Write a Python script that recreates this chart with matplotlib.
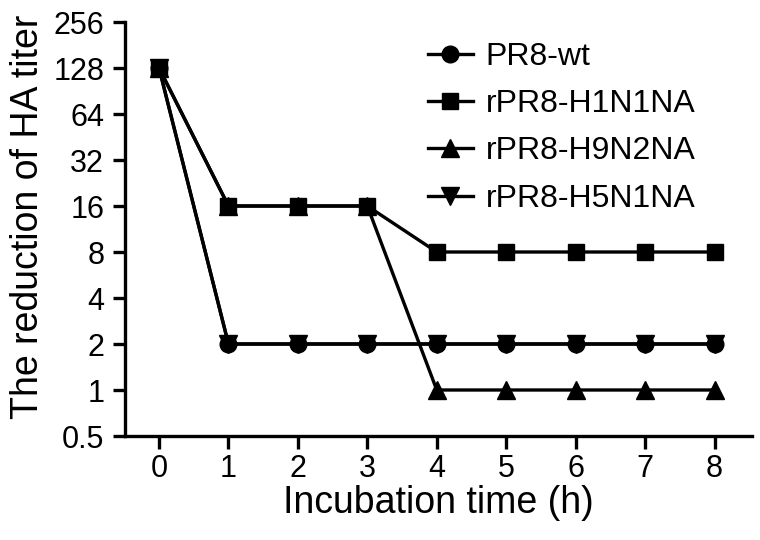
import matplotlib.pyplot as plt
import numpy as np

plt.rcParams['font.family'] = ['Liberation Sans', 'DejaVu Sans']

hours = [0, 1, 2, 3, 4, 5, 6, 7, 8]
pr8_wt = [128, 2, 2, 2, 2, 2, 2, 2, 2]
h1n1 = [128, 16, 16, 16, 8, 8, 8, 8, 8]
h9n2 = [128, 16, 16, 16, 1, 1, 1, 1, 1]
h5n1 = [128, 2, 2, 2, 2, 2, 2, 2, 2]
yticks = [0.5, 1, 2, 4, 8, 16, 32, 64, 128, 256]
ytick_labels = ["0.5", "1", "2", "4", "8", "16", "32", "64", "128", "256"]

W, H = 760, 540
fig = plt.figure(figsize=(7.6, 5.4), dpi=100)
# axes box in pixels: left 125, right 752, top 22, bottom 436
ax = fig.add_axes([125 / W, 1 - 436 / H, (752 - 125) / W, (436 - 22) / H])

lw = 2.4
ms = 12
h9, = ax.plot(hours, h9n2, '-^k', lw=lw, ms=ms + 1, label="rPR8-H9N2NA", zorder=2)
h5, = ax.plot(hours, h5n1, '-vk', lw=lw, ms=ms + 1, label="rPR8-H5N1NA", zorder=2)
wt, = ax.plot(hours, pr8_wt, '-ok', lw=lw, ms=ms, label="PR8-wt", zorder=3)
h1, = ax.plot(hours, h1n1, '-sk', lw=lw, ms=ms, label="rPR8-H1N1NA", zorder=4)

ax.set_yscale('log', base=2)
ax.set_ylim(0.5, 256)
ax.set_yticks(yticks)
ax.set_yticklabels(ytick_labels)
ax.minorticks_off()
ax.set_xlim(-0.49, 8.54)
ax.set_xticks(hours)

for s in ['top', 'right']:
    ax.spines[s].set_visible(False)
for s in ['left', 'bottom']:
    ax.spines[s].set_linewidth(2.4)
ax.tick_params(width=2.4, length=9, labelsize=22)
ax.tick_params(axis='y', pad=6)
ax.tick_params(axis='x', pad=4)

ax.set_xlabel("Incubation time (h)", fontsize=27, labelpad=1)
ax.set_ylabel("The reduction of HA titer", fontsize=27)
ax.yaxis.set_label_coords(-0.126, 0.529)

leg = ax.legend(handles=[wt, h1, h9, h5], loc='upper left',
                bbox_to_anchor=(428 / W, 1 - 42 / H), bbox_transform=fig.transFigure,
                frameon=False, fontsize=23, handlelength=1.4, labelspacing=0.54,
                handletextpad=0.4, borderpad=0, borderaxespad=0)

fig.savefig("out.png", dpi=100)
